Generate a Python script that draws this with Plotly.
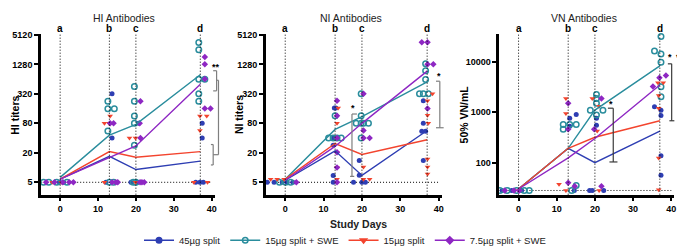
import numpy as np
import plotly.graph_objects as go

W, H = 685, 247

# ---------------- data ----------------
groups = ["45µg split", "15µg split + SWE", "15µg split", "7.5µg split + SWE"]
colors = ["#2e3eb3", "#2a8d9d", "#f3442e", "#8e27c3"]
symbols = ["circle", "circle-open", "triangle-down", "diamond"]

days = [0, 13, 20, 37]
day_letters = ["a", "b", "c", "d"]
x_ticks = [0, 10, 20, 30, 40]

panel_titles = ["HI Antibodies", "NI Antibodies", "VN Antibodies"]
y_titles = ["HI titers", "NI titers", "50% VN/mL"]
titer_ticks = [5, 20, 80, 320, 1280, 5120]
vn_ticks = [100, 1000, 10000]
lod = [5, 5, 28]

# HI individual titers
hi_x_45 = [-0.2, 0.9, 12.1, 13.7, 13.7, 18.7, 20.4, 20.7, 35.8, 36.9, 37.8, 37.5, 37.5]
hi_y_45 = [5, 5, 5, 320, 40, 5, 5, 80, 5, 5, 5, 80, 40]
hi_x_15swe = [-4.4, -3.0, -0.9, 1.8, 13.0, 14.1, 12.6, 12.6, 14.3, 12.6, 19.3, 20.0, 19.6, 19.6,
              19.6, 19.6, 19.6, 36.6, 36.6, 36.6, 38.2, 36.6, 36.6]
hi_y_15swe = [5, 5, 5, 5, 5, 5, 226, 159, 159, 56, 5, 5, 453, 226, 113, 80, 28.6, 3580, 2540,
              635, 635, 320, 226]
hi_x_15 = [-2.1, 0.3, 11.7, 13.2, 11.7, 12.9, 19.9, 18.3, 19.9, 36.9, 38.7, 36.9, 35.3, 38.9]
hi_y_15 = [5, 5, 5, 113, 80, 80, 5, 40, 40, 113, 113, 57, 5, 5]
hi_x_75swe = [-3.7, -1.5, 0.7, 2.4, 3.5, 13.7, 14.7, 15.2, 13.2, 14.1, 21.2, 21.0, 21.2, 21.1,
              21.6, 22.2, 38.2, 38.2, 38.2, 38.2, 39.7]
hi_y_75swe = [5, 5, 5, 5, 5, 5, 5, 5, 80, 80, 226, 80, 40, 5, 5, 5, 1810, 1280, 640, 161, 161]
# HI group means
hi_mean_45 = [5.8, 17, 9.1, 13.5]
hi_mean_15swe = [6.3, 46, 76, 785]
hi_mean_15 = [5.8, 21.2, 16.2, 21.2]
hi_mean_75swe = [5.8, 16, 27.7, 502]

# NI individual titers
ni_x_45 = [-4.7, -2.9, -0.8, 0.5, 2.0, 12.8, 13.2, 12.5, 12.5, 12.5, 12.5, 19.3, 19.3, 17.8,
           20.0, 20.9, 36.0, 36.0, 35.6, 36.6, 36.0]
ni_y_45 = [5, 5, 5, 5, 5, 164, 164, 40, 28.6, 6.9, 5, 14, 7, 5, 5, 5, 231, 80, 55, 55, 14]
ni_x_15swe = [-1.5, 0.1, 1.4, 13.0, 11.3, 12.5, 13.5, 14.6, 19.8, 19.8, 18.5, 19.8, 20.4, 21.7,
              19.8, 36.6, 36.6, 36.6, 35.0, 36.0, 37.3]
ni_y_15swe = [5, 5, 5, 114, 40, 40, 40, 40, 320, 114, 80, 80, 80, 80, 40, 1320, 950, 630, 320,
              320, 320]
ni_x_15 = [-3.8, -2.1, -0.3, 13.8, 13.5, 13.5, 13.5, 13.5, 20.4, 20.4, 22.0, 37.1, 37.1, 37.3,
           38.4, 37.1, 37.1, 37.1]
ni_y_15 = [5.8, 5.8, 5.8, 164, 80, 20, 10, 5.8, 10.3, 5.8, 5.8, 117, 231, 80, 320, 15, 10.3, 7.4]
ni_x_75swe = [2.9, 13.5, 13.5, 13.5, 13.5, 13.5, 13.5, 20.4, 20.4, 20.4, 22.0, 35.6, 37.1, 37.1,
              38.6, 37.1]
ni_y_75swe = [5, 231, 114, 40, 20.6, 10, 5, 320, 57, 40, 40, 3620, 3620, 1280, 1280, 161]
# NI group means
ni_mean_45 = [5.5, 22, 6.9, 57]
ni_mean_15swe = [5.8, 60, 110, 560]
ni_mean_15 = [5.8, 31, 18.5, 37]
ni_mean_75swe = [5.5, 27, 80, 930]

# VN individual titers
vn_x_45 = [-4.3, -1.8, 0.8, 15.1, 13.4, 13.4, 14.6, 20.4, 20.4, 18.6, 19.3, 22.3, 35.6, 37.3,
           37.3, 37.3, 37.3]
vn_y_45 = [28, 28, 28, 900, 757, 527, 28, 757, 551, 28, 28, 28, 1280, 1090, 860, 137, 56]
vn_x_15swe = [-4.9, -3.0, -0.5, 1.5, 2.8, 11.7, 13.4, 15.1, 11.7, 15.1, 13.9, 20.4, 20.4, 20.4,
              18.8, 22.1, 20.4, 37.3, 35.6, 37.3, 37.3, 37.3, 37.3]
vn_y_15swe = [28, 28, 28, 28, 28, 569, 569, 569, 457, 35, 28, 2240, 1860, 1500, 1090, 1090, 880,
              31800, 16300, 14300, 9800, 3200, 2030]
vn_x_15 = [0.0, 12.4, 12.4, 10.6, 12.4, 19.3, 21.1, 20.6, 21.1, 36.5, 37.9, 36.7, 36.7, 36.7, 36.7]
vn_y_15 = [28, 1860, 940, 37, 28, 1860, 1310, 424, 28, 3850, 3850, 2150, 1200, 124, 29]
vn_x_75swe = [-3.6, -1.2, 0.2, 13.0, 13.0, 13.0, 14.7, 21.7, 19.8, 21.7, 38.6, 36.9, 35.2]
vn_y_75swe = [28, 28, 28, 1500, 457, 40, 34, 1860, 457, 34, 5350, 4840, 3230]
# VN group means
vn_mean_45 = [30, 192, 100, 420]
vn_mean_15swe = [30, 192, 1100, 8260]
vn_mean_15 = [30, 192, 318, 676]
vn_mean_75swe = [30, 124, 300, 3470]

# significance brackets (segments x0, y0, x1, y1 in data units) and stars
hi_brackets = [(41.3, 950, 41.3, 368), (40.4, 950, 41.3, 950), (40.4, 368, 41.3, 368),
               (40.4, 29.5, 40.4, 11.3), (39.8, 29.5, 40.4, 29.5), (39.8, 11.3, 40.4, 11.3),
               (41.8, 606, 41.8, 18.3), (41.3, 606, 41.8, 606), (40.4, 18.3, 41.8, 18.3)]
hi_stars = [(41.1, 1150, "**")]
ni_brackets = [(17.4, 124, 17.4, 6.6), (17.4, 124, 18.7, 124), (16.9, 6.6, 18.0, 6.6),
               (40.3, 580, 40.3, 65), (39.3, 580, 40.3, 580), (39.3, 65, 41.3, 65)]
ni_stars = [(17.6, 164, "*"), (40.2, 756, "*")]
vn_brackets = [(24.8, 1200, 24.8, 103), (23.4, 1200, 24.8, 1200), (23.8, 103, 25.9, 103),
               (40.1, 9100, 40.1, 676), (39.1, 9100, 40.1, 9100), (39.5, 676, 40.8, 676),
               (43.2, 5350, 43.2, 2790), (43.2, 5350, 44.3, 5350), (43.2, 2790, 44.3, 2790),
               (44.3, 3840, 44.5, 3840), (44.5, 3840, 44.5, 327), (43.6, 327, 44.5, 327)]
vn_stars = [(24.3, 1450, "*"), (39.7, 12700, "*"), (42.3, 12700, "**")]

# ---------------- layout geometry ----------------
FONT = "Liberation Sans, Arial, sans-serif"
X_RANGE = [-5, 40.8]
X_DOM_PX = [(33.3, 207.3), (258.8, 435.0), (492.9, 668.3)]
Y_DOM_PX = (23, 192)
Y_RANGES = [[0.446, 3.73], [0.446, 3.73], [1.364, 4.553]]
Y_DOMAIN = [1 - Y_DOM_PX[1] / H, 1 - Y_DOM_PX[0] / H]
X_DOMAINS = [[a / W, b / W] for a, b in X_DOM_PX]
DOT = "1px,2px"


def paper_x(p, x):
    d0, d1 = X_DOMAINS[p]
    return d0 + (x - X_RANGE[0]) / (X_RANGE[1] - X_RANGE[0]) * (d1 - d0)


def paper_y(p, v):
    r0, r1 = Y_RANGES[p]
    return Y_DOMAIN[0] + (np.log10(v) - r0) / (r1 - r0) * (Y_DOMAIN[1] - Y_DOMAIN[0])


panels = [
    dict(xs=[hi_x_45, hi_x_15swe, hi_x_15, hi_x_75swe], ys=[hi_y_45, hi_y_15swe, hi_y_15, hi_y_75swe],
         means=[hi_mean_45, hi_mean_15swe, hi_mean_15, hi_mean_75swe], ticks=titer_ticks,
         brackets=hi_brackets, stars=hi_stars, bcolor="#7f7f7f"),
    dict(xs=[ni_x_45, ni_x_15swe, ni_x_15, ni_x_75swe], ys=[ni_y_45, ni_y_15swe, ni_y_15, ni_y_75swe],
         means=[ni_mean_45, ni_mean_15swe, ni_mean_15, ni_mean_75swe], ticks=titer_ticks,
         brackets=ni_brackets, stars=ni_stars, bcolor="#7f7f7f"),
    dict(xs=[vn_x_45, vn_x_15swe, vn_x_15, vn_x_75swe], ys=[vn_y_45, vn_y_15swe, vn_y_15, vn_y_75swe],
         means=[vn_mean_45, vn_mean_15swe, vn_mean_15, vn_mean_75swe], ticks=vn_ticks,
         brackets=vn_brackets, stars=vn_stars, bcolor="#3a3a3a"),
]

fig = go.Figure()
shapes, annotations = [], []
layout = {}

for p, pan in enumerate(panels):
    xa = "x" if p == 0 else f"x{p + 1}"
    ya = "y" if p == 0 else f"y{p + 1}"
    # LOD dotted line
    fig.add_trace(go.Scatter(x=[X_RANGE[0], 40], y=[lod[p], lod[p]], mode="lines",
                             line=dict(color="black", width=1, dash=DOT),
                             xaxis=xa, yaxis=ya, showlegend=False, hoverinfo="skip"))
    # individual points
    for g in range(4):
        open_m = symbols[g].endswith("open")
        fig.add_trace(go.Scatter(
            x=pan["xs"][g], y=pan["ys"][g], mode="markers", xaxis=xa, yaxis=ya,
            marker=dict(symbol=symbols[g], size=5.5 if open_m else 5, color=colors[g],
                        line=dict(width=1.5 if open_m else 0, color=colors[g])),
            showlegend=False, cliponaxis=False))
    # means
    for g in range(4):
        fig.add_trace(go.Scatter(x=days, y=pan["means"][g], mode="lines", xaxis=xa, yaxis=ya,
                                 line=dict(color=colors[g], width=1.4), showlegend=False))
    # day reference lines
    for d, lab in zip(days, day_letters):
        shapes.append(dict(type="line", xref=xa, yref=f"{ya} domain", x0=d, x1=d, y0=0, y1=1,
                           line=dict(color="black", width=1, dash=DOT)))
        annotations.append(dict(x=d, y=1 - 17.5 / H, xref=xa, yref="paper", text=lab,
                                showarrow=False, xanchor="center", yanchor="middle",
                                font=dict(family=FONT, size=10, color="black", weight="bold")))
    # brackets
    for (x0, y0, x1, y1) in pan["brackets"]:
        shapes.append(dict(type="line", xref="paper", yref="paper",
                           x0=paper_x(p, x0), x1=paper_x(p, x1), y0=paper_y(p, y0), y1=paper_y(p, y1),
                           line=dict(color=pan["bcolor"], width=1.2)))
    for (sx, sy, st) in pan["stars"]:
        annotations.append(dict(x=paper_x(p, sx), y=paper_y(p, sy), xref="paper", yref="paper",
                                text=st, showarrow=False, xanchor="center", yanchor="middle",
                                font=dict(family=FONT, size=9, color="black", weight="bold")))
    # axes
    layout["xaxis" if p == 0 else f"xaxis{p + 1}"] = dict(
        domain=X_DOMAINS[p], range=X_RANGE, anchor=ya, tickvals=x_ticks, showgrid=False,
        zeroline=False, showline=True, linecolor="black", linewidth=2.5, ticks="outside",
        ticklen=4, tickwidth=2, tickcolor="black",
        tickfont=dict(family=FONT, size=9, color="black", weight="bold"))
    layout["yaxis" if p == 0 else f"yaxis{p + 1}"] = dict(
        domain=Y_DOMAIN, type="log", range=Y_RANGES[p], anchor=xa, tickvals=pan["ticks"],
        ticktext=[str(t) for t in pan["ticks"]], showgrid=False, zeroline=False, showline=True,
        linecolor="black", linewidth=3, ticks="outside", ticklen=4, tickwidth=2, tickcolor="black",
        tickfont=dict(family=FONT, size=9, color="black", weight="bold"))
    # titles
    title_x = [116, 344, 578][p]
    annotations.append(dict(x=title_x / W, y=1 - 6.5 / H, xref="paper", yref="paper",
                            text=panel_titles[p], showarrow=False, xanchor="center", yanchor="middle",
                            font=dict(family=FONT, size=10.5, color="#222")))
    ytx = [7, 231, 457][p]
    annotations.append(dict(x=ytx / W, y=1 - 108 / H, xref="paper", yref="paper",
                            text=y_titles[p], showarrow=False, textangle=-90,
                            xanchor="center", yanchor="middle",
                            font=dict(family=FONT, size=10.5, color="black", weight="bold")))

annotations.append(dict(x=352 / W, y=1 - 223 / H, xref="paper", yref="paper", text="Study Days",
                        showarrow=False, xanchor="center", yanchor="middle",
                        font=dict(family=FONT, size=10.5, color="#222", weight="bold")))

# legend entries
for g in range(4):
    fig.add_trace(go.Scatter(x=[None], y=[None], mode="lines+markers", name=groups[g],
                             showlegend=True, line=dict(color=colors[g], width=1.5),
                             marker=dict(symbol=symbols[g], size=5.5, color=colors[g],
                                         line=dict(width=1.5, color=colors[g]))))

fig.update_layout(
    width=W, height=H, margin=dict(l=0, r=0, t=0, b=0),
    paper_bgcolor="white", plot_bgcolor="white",
    shapes=shapes, annotations=annotations,
    legend=dict(orientation="h", x=338 / W, xanchor="center", y=1 - 240 / H, yanchor="middle",
                font=dict(family=FONT, size=9.5, color="#222"), itemwidth=30,
                bgcolor="rgba(0,0,0,0)", borderwidth=0, tracegroupgap=0),
    **layout)

fig.write_html("out.html")
